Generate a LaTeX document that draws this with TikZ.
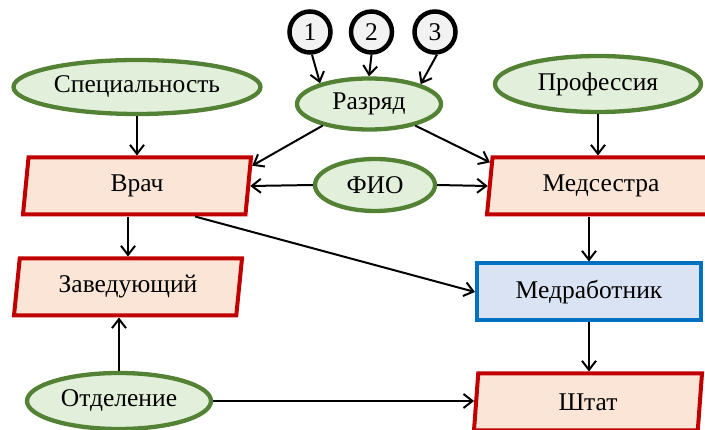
\documentclass[tikz,border=0pt]{standalone}
\usepackage{fontspec}
\setmainfont{Liberation Serif}
\usetikzlibrary{shapes.geometric,arrows.meta}
\definecolor{ogreen}{HTML}{548235}
\definecolor{lgreen}{HTML}{E2EFDA}
\definecolor{dred}{HTML}{C00000}
\definecolor{lpeach}{HTML}{FBE5D6}
\definecolor{bblue}{HTML}{0070C0}
\definecolor{lblue}{HTML}{DAE3F3}
\definecolor{lgray}{HTML}{F2F2F2}
\begin{document}
\begin{tikzpicture}[x=1pt,y=-1pt,
  every node/.style={font=\fontsize{25.5}{30}\selectfont},
  oval/.style={ellipse, draw=ogreen, fill=lgreen, line width=4.3pt, inner sep=0pt},
  para/.style={trapezium, trapezium left angle=76, trapezium right angle=104,
    trapezium stretches body, draw=dred, fill=lpeach, line width=4pt,
    minimum height=57pt, minimum width=228pt, inner sep=0pt},
  boxx/.style={rectangle, draw=bblue, fill=lblue, line width=4pt,
    minimum width=224pt, minimum height=57pt, inner sep=0pt},
  num/.style={circle, draw=black, fill=lgray, line width=4.5pt,
    minimum size=41pt, inner sep=0pt},
  arr/.style={-{Straight Barb[length=9pt,width=14pt,line width=2pt]}, line width=2pt, black}
]
\useasboundingbox (0,0) rectangle (705,430);

\node[num] (c1) at (310,32) {1};
\node[num] (c2) at (371.5,32) {2};
\node[num] (c3) at (435,32) {3};

\node[oval, minimum width=144pt, minimum height=51pt] (razr) at (369,104) {Разряд};
\node[oval, minimum width=247pt, minimum height=54pt] (spec) at (137,87) {Специальность};
\node[oval, minimum width=206pt, minimum height=56pt] (prof) at (598,84) {Профессия};
\node[oval, minimum width=120pt, minimum height=52pt] (fio) at (375,185) {ФИО};
\node[oval, minimum width=184pt, minimum height=56pt] (otd) at (119,401) {Отделение};

\node[para] (vrach) at (137,186) {Врач};
\node[para] (zav) at (128,287) {Заведующий};
\node[para] (meds) at (601,186) {Медсестра};
\node[para] (shtat) at (588,402) {Штат};
\node[boxx] (medr) at (589,292) {Медработник};

\draw[arr] (c1.-85) -- (razr.157);
\draw[arr] (c2.south) -- (razr.north);
\draw[arr] (c3.-85) -- (razr.21);

\draw[arr] (spec.south) -- (spec.south |- vrach.north);
\draw[arr] (prof.south) -- (prof.south |- meds.north);
\draw[arr] (razr.205) -- (vrach.10);
\draw[arr] (razr.-25) -- (meds.168);
\draw[arr] (fio.west) -- (vrach.east);
\draw[arr] (fio.east) -- (meds.west);
\draw[arr] (zav.north |- vrach.south) -- (zav.north);
\draw[arr] ([xshift=58pt]vrach.south) -- (medr.west);
\draw[arr] (medr.north |- meds.south) -- (medr.north);
\draw[arr] (medr.south) -- (medr.south |- shtat.north);
\draw[arr] (otd.north) -- (otd.north |- zav.south);
\draw[arr] (otd.east) -- (otd.east -| shtat.west);
\end{tikzpicture}
\end{document}
